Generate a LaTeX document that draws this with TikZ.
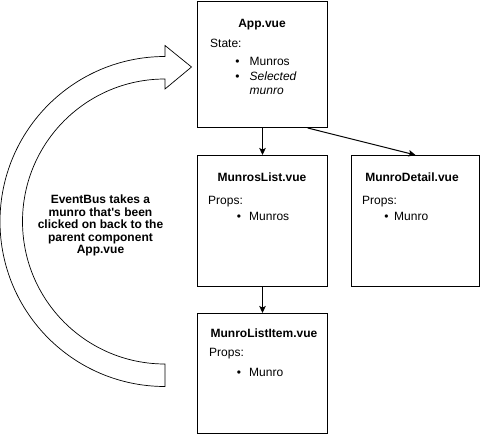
\documentclass[tikz,border=0pt]{standalone}
\usepackage{fontspec}
\setmainfont{Liberation Sans}[Ligatures=TeXOff]
\usetikzlibrary{arrows.meta,calc}
\begin{document}
\begin{tikzpicture}[x=1pt,y=-1pt,
  box/.style={draw,line width=1pt,inner sep=0pt,anchor=north west},
  txt/.style={inner sep=0pt,font=\fontsize{12}{14}\selectfont},
  ttl/.style={txt,anchor=base,font=\bfseries\fontsize{12}{14}\selectfont},
  lbl/.style={txt,anchor=base west},
  bul/.style={txt,anchor=base},
  arr/.style={line width=1pt,-{Stealth[length=7pt,width=6.5pt,inset=1.5pt]}},
  blockarrow/.style={draw,line width=0.7pt,fill=white,line join=miter}]
\useasboundingbox (0,0) rectangle (481,443);
% boxes
\node[box,minimum width=130pt,minimum height=126pt] (app) at (197,1) {};
\node[box,minimum width=130pt,minimum height=131pt] (list) at (197,155) {};
\node[box,minimum width=128pt,minimum height=131pt] (detail) at (351,155) {};
\node[box,minimum width=130pt,minimum height=120pt] (item) at (197,313) {};
% App.vue
\node[ttl] (apptitle) at (262,27.5) {App.vue};
\node[lbl] (appstate) at (210,47.5) {State:};
\node[bul] (appb1) at (237.5,66) {\textbullet};
\node[lbl] (appi1) at (249.5,66) {Munros};
\node[bul] (appb2) at (237.5,80.5) {\textbullet};
\node[lbl] (appi2) at (249.5,80.5) {\itshape Selected};
\node[lbl] (appi3) at (249.5,94.5) {\itshape munro};
% MunrosList.vue
\node[ttl] (listtitle) at (262,181.5) {MunrosList.vue};
\node[lbl] (listprops) at (208,204.5) {Props:};
\node[bul] (listb1) at (239,220.5) {\textbullet};
\node[lbl] (listi1) at (249,220.5) {Munros};
% MunroDetail.vue
\node[ttl] (detailtitle) at (412,181.5) {MunroDetail.vue};
\node[lbl] (detailprops) at (362,204.5) {Props:};
\node[bul] (detailb1) at (386.5,220.5) {\textbullet};
\node[lbl] (detaili1) at (394,220.5) {Munro};
% MunroListItem.vue
\node[ttl] (itemtitle) at (264,337.5) {MunroListItem.vue};
\node[lbl] (itemprops) at (209,356) {Props:};
\node[bul] (itemb1) at (239,376) {\textbullet};
\node[lbl] (itemi1) at (249,376) {Munro};
% connectors
\coordinate (appout) at ($(app.south)!0.69!(app.south east)$);
\draw[arr] (app.south) -- (list.north);
\draw[arr] (appout) -- (detail.north);
\draw[arr] (list.south) -- (item.north);
% block arc arrow
\draw[blockarrow] (165,56.5) arc[start angle=90,end angle=270,radius=165pt]
  -- (165,364) arc[start angle=270,end angle=90,radius=142.5pt]
  -- (165,89) -- (191.5,67) -- (165,45.5) -- cycle;
\node[txt,align=center,font=\bfseries\fontsize{12}{12.5}\selectfont] (bus) at (100.5,225.5)
  {EventBus takes a\\munro that's been\\clicked on back to the\\parent component\\App.vue};
\end{tikzpicture}
\end{document}
